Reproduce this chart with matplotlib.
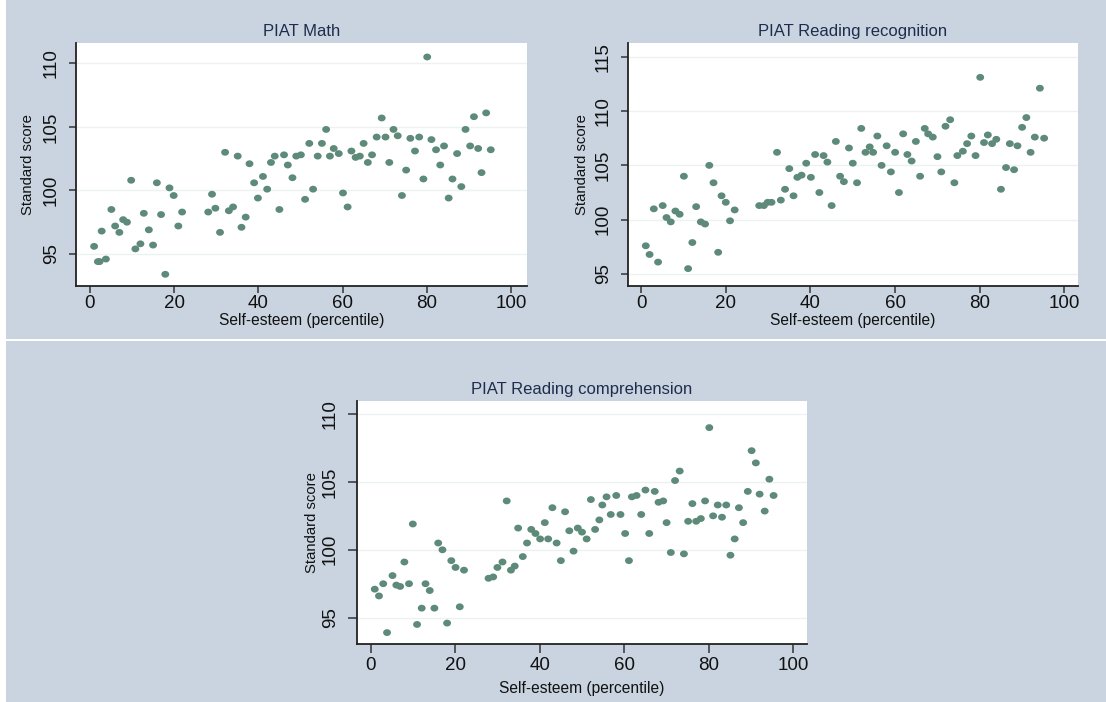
import matplotlib
matplotlib.use("Agg")
import numpy as np
import matplotlib.pyplot as plt
from matplotlib.patches import Rectangle
from matplotlib.path import Path

plt.rcParams['font.family'] = ['Liberation Sans', 'DejaVu Sans']

# ---------------- data ----------------
math_x = [1.0, 1.9, 2.3, 2.8, 3.8, 5.1, 6.0, 7.0, 7.9, 8.8, 9.8, 10.8, 12.0, 12.8, 14.0,
          15.0, 15.9, 16.9, 17.9, 18.9, 19.9, 21.0, 21.9, 28.1, 29.0, 29.8, 30.9, 32.1,
          33.0, 34.0, 35.1, 36.0, 37.0, 37.9, 39.0, 39.9, 41.1, 42.1, 43.0, 43.9, 45.0,
          46.1, 47.0, 48.1, 49.0, 50.1, 51.1, 52.1, 53.0, 54.1, 55.1, 56.1, 57.0, 57.9,
          59.1, 60.1, 61.2, 62.1, 63.1, 64.1, 65.0, 66.0, 67.0, 68.1, 69.3, 70.2, 71.1,
          72.1, 73.1, 74.1, 75.1, 76.1, 77.2, 78.2, 79.2, 80.1, 81.1, 82.2, 83.2, 84.1,
          85.2, 86.1, 87.2, 88.2, 89.2, 90.3, 91.2, 92.2, 93.0, 94.1, 95.2]
math_y = [95.6, 94.4, 94.4, 96.8, 94.6, 98.5, 97.2, 96.7, 97.7, 97.5, 100.8, 95.4, 95.8, 98.2, 96.9,
          95.7, 100.6, 98.1, 93.4, 100.2, 99.6, 97.2, 98.3, 98.3, 99.7, 98.6, 96.7, 103.0,
          98.4, 98.7, 102.7, 97.1, 97.9, 102.1, 100.6, 99.4, 101.1, 100.1, 102.2, 102.7, 98.5,
          102.8, 102.0, 101.0, 102.7, 102.8, 99.3, 103.7, 100.1, 102.7, 103.7, 104.8, 102.7, 103.3,
          102.9, 99.8, 98.7, 103.1, 102.6, 102.7, 103.7, 102.2, 102.8, 104.2, 105.7, 104.2, 102.2,
          104.8, 104.3, 99.6, 101.6, 104.1, 103.1, 104.2, 100.9, 110.5, 104.0, 103.2, 102.0, 103.5,
          99.4, 100.9, 102.9, 100.3, 104.8, 103.5, 105.8, 103.3, 101.4, 106.1, 103.2]

recog_x = [1.1, 2.0, 3.0, 4.0, 5.1, 6.0, 7.0, 8.1, 9.1, 10.1, 11.1, 12.1, 13.0, 14.1, 15.1,
           16.1, 17.1, 18.2, 19.0, 20.0, 21.0, 22.1, 27.9, 29.0, 29.9, 30.8, 32.1, 33.0,
           34.0, 35.0, 36.0, 36.9, 37.9, 39.0, 40.1, 41.1, 42.1, 43.1, 44.0, 45.0, 46.0,
           47.0, 47.9, 49.1, 50.0, 51.0, 52.0, 53.0, 54.0, 54.8, 55.8, 56.8, 58.0, 59.0,
           60.0, 60.9, 61.9, 62.9, 63.9, 64.9, 65.9, 67.0, 67.8, 68.9, 70.0, 70.9, 71.9,
           73.0, 74.0, 74.7, 76.0, 77.0, 78.0, 79.0, 80.1, 81.0, 81.9, 82.9, 83.9, 85.0,
           86.2, 87.1, 88.1, 88.9, 90.0, 91.0, 92.0, 93.0, 94.2, 95.2]
recog_y = [97.6, 96.8, 101.0, 96.1, 101.3, 100.2, 99.8, 100.8, 100.5, 104.0, 95.5, 97.9, 101.2, 99.8, 99.6,
           105.0, 103.4, 97.0, 102.2, 101.6, 99.9, 100.9, 101.3, 101.3, 101.6, 101.6, 106.2, 101.8,
           102.8, 104.7, 102.2, 103.9, 104.1, 105.2, 103.9, 106.0, 102.5, 105.9, 105.3, 101.3, 107.2,
           104.0, 103.5, 106.6, 105.2, 103.4, 108.4, 106.2, 106.7, 106.2, 107.7, 105.0, 106.8, 104.4,
           106.2, 102.5, 107.9, 106.0, 105.4, 107.2, 104.0, 108.4, 107.9, 107.6, 105.8, 104.4, 108.6,
           109.2, 103.4, 105.9, 106.3, 107.0, 107.7, 105.9, 113.1, 107.1, 107.8, 107.0, 107.4, 102.8,
           104.8, 107.0, 104.6, 106.8, 108.5, 109.4, 106.2, 107.6, 112.1, 107.5]

comp_x = [1.0, 2.0, 3.0, 3.9, 5.2, 6.1, 7.0, 8.0, 9.1, 10.0, 11.0, 12.1, 13.0, 14.0, 15.1,
          16.0, 17.0, 18.1, 19.1, 20.1, 21.1, 22.1, 27.9, 29.0, 30.0, 31.2, 32.2, 33.2,
          34.1, 34.9, 36.0, 37.0, 38.0, 39.0, 40.1, 41.2, 42.0, 43.0, 44.0, 45.0, 46.0,
          47.0, 48.0, 49.0, 50.0, 51.1, 52.1, 53.1, 54.1, 54.8, 55.8, 56.8, 58.1, 59.1,
          60.2, 61.1, 61.8, 62.9, 64.0, 65.0, 65.9, 67.2, 68.1, 69.2, 70.0, 71.0, 72.0,
          73.1, 74.1, 75.1, 76.1, 77.0, 78.1, 79.1, 80.1, 81.0, 82.1, 83.1, 84.1, 85.1,
          86.1, 87.1, 88.1, 89.2, 90.1, 91.1, 92.0, 93.2, 94.3, 95.3]
comp_y = [97.1, 96.6, 97.5, 93.9, 98.1, 97.4, 97.3, 99.1, 97.5, 101.9, 94.5, 95.7, 97.5, 97.0, 95.7,
          100.5, 100.0, 94.6, 99.2, 98.7, 95.8, 98.5, 97.9, 98.0, 98.7, 99.1, 103.6, 98.5,
          98.8, 101.6, 99.5, 100.5, 101.5, 101.2, 100.8, 102.0, 100.8, 103.1, 100.5, 99.2, 102.8,
          101.4, 99.9, 101.6, 101.3, 100.8, 103.7, 101.5, 102.2, 103.3, 103.9, 102.6, 104.0, 102.6,
          101.2, 99.2, 103.9, 104.0, 102.6, 104.4, 101.2, 104.3, 103.5, 103.6, 102.0, 99.8, 105.1,
          105.8, 99.7, 102.1, 103.4, 102.1, 102.3, 103.6, 109.0, 102.5, 103.3, 102.4, 103.3, 99.6,
          100.8, 103.1, 102.0, 104.3, 107.3, 106.4, 104.1, 102.85, 105.2, 104.0]

titles = ["PIAT Math", "PIAT Reading recognition", "PIAT Reading comprehension"]
x_label = "Self-esteem (percentile)"
y_label = "Standard score"
x_ticks = [0, 20, 40, 60, 80, 100]
y_ticks_math = [95, 100, 105, 110]
y_ticks_recog = [95, 100, 105, 110, 115]
y_ticks_comp = [95, 100, 105, 110]

# ---------------- style ----------------
W, H = 1106, 702
BG = "#c9d4e0"
DOT = "#5e8a7a"
TITLE_C = "#1e2d4d"

# slightly wide dot (the source picture is a little stretched horizontally)
_t = np.linspace(0, 2 * np.pi, 40)
DOT_MARKER = Path(np.column_stack([1.15 * np.cos(_t), np.sin(_t)]))

fig = plt.figure(figsize=(W / 100, H / 100), dpi=100, facecolor=BG)
fig.patches.append(Rectangle((0, 0), 6 / W, 1, transform=fig.transFigure,
                             facecolor="white", edgecolor="none", zorder=0))
fig.patches.append(Rectangle((0, 1 - 341 / H), 1, 2 / H, transform=fig.transFigure,
                             facecolor="white", edgecolor="none", zorder=0))


def px_axes(left, top, right, bottom):
    return fig.add_axes([left / W, 1 - bottom / H, (right - left) / W, (bottom - top) / H])


# (axes, x, y, title, yticks, xlim, ylim, tick length px, x pad px, xlabel y (axes), ylabel x (axes))
panels = [
    (px_axes(76, 43, 527, 286), math_x, math_y, titles[0], y_ticks_math,
     (-3.3, 103.8), (92.48, 111.6), 7, 1.5, -0.142, -0.106),
    (px_axes(628, 43, 1078, 286), recog_x, recog_y, titles[1], y_ticks_recog,
     (-3.1, 103.2), (93.9, 116.26), 7, 1.5, -0.142, -0.103),
    (px_axes(357, 401, 807, 644), comp_x, comp_y, titles[2], y_ticks_comp,
     (-3.2, 103.2), (93.06, 110.96), 9, 4, -0.182, -0.10),
]

PT = 0.72  # points per pixel at 100 dpi

for ax, xs, ys, title, yt, xl, yl, tl, xpad, xly, ylx in panels:
    ax.set_facecolor("white")
    ax.scatter(xs, ys, s=32, marker=DOT_MARKER, color=DOT, edgecolors="none", zorder=3)
    ax.set_xlim(*xl)
    ax.set_ylim(*yl)
    ax.set_xticks(x_ticks)
    ax.set_yticks(yt)
    ax.grid(axis="y", color="#edf1f2", linewidth=1.0, zorder=0)
    ax.set_axisbelow(True)
    for s in ("top", "right"):
        ax.spines[s].set_visible(False)
    for s in ("left", "bottom"):
        ax.spines[s].set_color("#222222")
        ax.spines[s].set_linewidth(1.3)
    ax.tick_params(axis="both", direction="out", length=tl * PT, width=1.1, color="#333333",
                   labelsize=13.5, labelcolor="#111111")
    ax.tick_params(axis="x", pad=xpad * PT)
    ax.tick_params(axis="y", labelrotation=90, pad=9 * PT)
    for lab in ax.get_yticklabels():
        lab.set_va("center")
    ax.set_title(title, fontsize=12, color=TITLE_C, pad=5)
    ax.set_xlabel(x_label, fontsize=11.2, color="#111111")
    ax.xaxis.set_label_coords(0.5, xly)
    ax.xaxis.label.set_va("center")
    ax.set_ylabel(y_label, fontsize=10.7, color="#111111")
    ax.yaxis.set_label_coords(ylx, 0.5)
    ax.yaxis.label.set_va("center")

fig.savefig("out.png", dpi=100, facecolor=BG)
